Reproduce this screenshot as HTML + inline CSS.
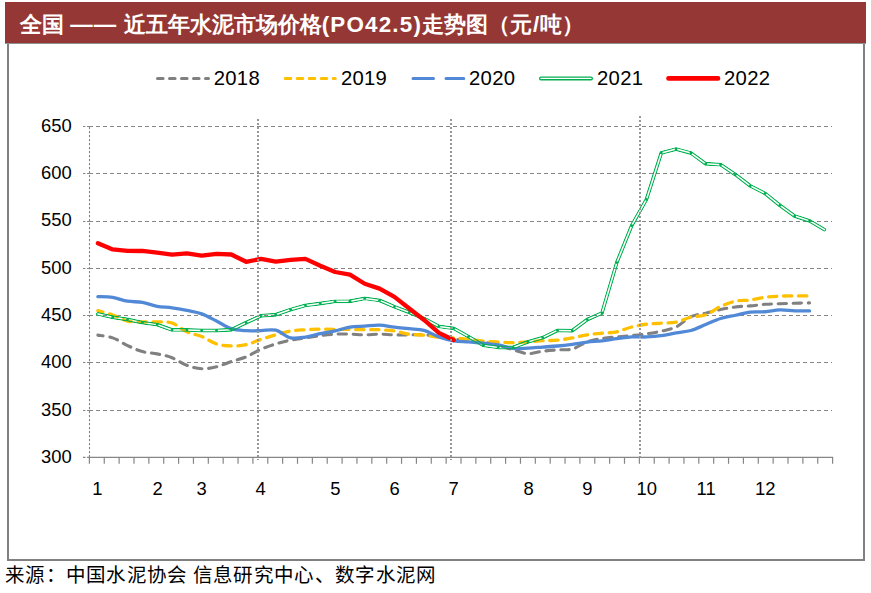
<!DOCTYPE html>
<html><head><meta charset="utf-8"><title>全国近五年水泥市场价格走势图</title>
<style>
html,body{margin:0;padding:0;background:#fff;}
body{width:871px;height:593px;position:relative;overflow:hidden;font-family:"Liberation Sans",sans-serif;}
.frame{position:absolute;left:7px;top:42px;width:854px;height:515px;border:2px solid #808080;background:#fff;}
.title{position:absolute;left:5px;top:2px;width:861px;height:42px;background:#953735;border-bottom:1px solid #8e9292;box-sizing:border-box;}
.title span.t{position:absolute;left:15px;top:10px;letter-spacing:0px;color:#fff;font-weight:bold;font-size:22.4px;line-height:26px;white-space:nowrap;}
.src{position:absolute;left:5px;top:564px;font-family:"Liberation Serif",serif;font-size:19.5px;line-height:24px;letter-spacing:0.3px;color:#000;white-space:nowrap;}
</style></head>
<body>
<div class="frame"></div>
<div class="title"><span class="t">全国 <span style="letter-spacing:1.2px">——</span> 近五年水泥市场价格<span style="letter-spacing:1.2px">(PO42.5)</span>走势图（元<span style="letter-spacing:1px;margin-left:1px">/</span>吨）</span></div>
<svg width="871" height="593" viewBox="0 0 871 593" style="position:absolute;left:0;top:0"><line x1="89" y1="410.5" x2="832" y2="410.5" stroke="#868686" stroke-width="1" stroke-dasharray="4 3"/><line x1="83" y1="410.5" x2="89.4" y2="410.5" stroke="#868686" stroke-width="1" stroke-dasharray="2.4 1.6"/><line x1="89" y1="362.5" x2="832" y2="362.5" stroke="#868686" stroke-width="1" stroke-dasharray="4 3"/><line x1="83" y1="362.5" x2="89.4" y2="362.5" stroke="#868686" stroke-width="1" stroke-dasharray="2.4 1.6"/><line x1="89" y1="315.5" x2="832" y2="315.5" stroke="#868686" stroke-width="1" stroke-dasharray="4 3"/><line x1="83" y1="315.5" x2="89.4" y2="315.5" stroke="#868686" stroke-width="1" stroke-dasharray="2.4 1.6"/><line x1="89" y1="268.5" x2="832" y2="268.5" stroke="#868686" stroke-width="1" stroke-dasharray="4 3"/><line x1="83" y1="268.5" x2="89.4" y2="268.5" stroke="#868686" stroke-width="1" stroke-dasharray="2.4 1.6"/><line x1="89" y1="221.5" x2="832" y2="221.5" stroke="#868686" stroke-width="1" stroke-dasharray="4 3"/><line x1="83" y1="221.5" x2="89.4" y2="221.5" stroke="#868686" stroke-width="1" stroke-dasharray="2.4 1.6"/><line x1="89" y1="173.5" x2="832" y2="173.5" stroke="#868686" stroke-width="1" stroke-dasharray="4 3"/><line x1="83" y1="173.5" x2="89.4" y2="173.5" stroke="#868686" stroke-width="1" stroke-dasharray="2.4 1.6"/><line x1="89" y1="126.5" x2="832" y2="126.5" stroke="#868686" stroke-width="1" stroke-dasharray="4 3"/><line x1="83" y1="126.5" x2="89.4" y2="126.5" stroke="#868686" stroke-width="1" stroke-dasharray="2.4 1.6"/><line x1="83" y1="457.4" x2="89.4" y2="457.4" stroke="#868686" stroke-width="1.2" stroke-dasharray="2.4 1.6"/><line x1="89.5" y1="127" x2="89.5" y2="457" stroke="#868686" stroke-width="1.1" stroke-dasharray="2.2 1.8"/><line x1="88.8" y1="457.4" x2="833.2" y2="457.4" stroke="#868686" stroke-width="1.35"/><line x1="89.40" y1="457.4" x2="89.40" y2="463.8" stroke="#868686" stroke-width="1.2"/><line x1="104.26" y1="457.4" x2="104.26" y2="463.8" stroke="#868686" stroke-width="1.2"/><line x1="119.13" y1="457.4" x2="119.13" y2="463.8" stroke="#868686" stroke-width="1.2"/><line x1="133.99" y1="457.4" x2="133.99" y2="463.8" stroke="#868686" stroke-width="1.2"/><line x1="148.86" y1="457.4" x2="148.86" y2="463.8" stroke="#868686" stroke-width="1.2"/><line x1="163.72" y1="457.4" x2="163.72" y2="463.8" stroke="#868686" stroke-width="1.2"/><line x1="178.58" y1="457.4" x2="178.58" y2="463.8" stroke="#868686" stroke-width="1.2"/><line x1="193.45" y1="457.4" x2="193.45" y2="463.8" stroke="#868686" stroke-width="1.2"/><line x1="208.31" y1="457.4" x2="208.31" y2="463.8" stroke="#868686" stroke-width="1.2"/><line x1="223.18" y1="457.4" x2="223.18" y2="463.8" stroke="#868686" stroke-width="1.2"/><line x1="238.04" y1="457.4" x2="238.04" y2="463.8" stroke="#868686" stroke-width="1.2"/><line x1="252.90" y1="457.4" x2="252.90" y2="463.8" stroke="#868686" stroke-width="1.2"/><line x1="267.77" y1="457.4" x2="267.77" y2="463.8" stroke="#868686" stroke-width="1.2"/><line x1="282.63" y1="457.4" x2="282.63" y2="463.8" stroke="#868686" stroke-width="1.2"/><line x1="297.50" y1="457.4" x2="297.50" y2="463.8" stroke="#868686" stroke-width="1.2"/><line x1="312.36" y1="457.4" x2="312.36" y2="463.8" stroke="#868686" stroke-width="1.2"/><line x1="327.22" y1="457.4" x2="327.22" y2="463.8" stroke="#868686" stroke-width="1.2"/><line x1="342.09" y1="457.4" x2="342.09" y2="463.8" stroke="#868686" stroke-width="1.2"/><line x1="356.95" y1="457.4" x2="356.95" y2="463.8" stroke="#868686" stroke-width="1.2"/><line x1="371.82" y1="457.4" x2="371.82" y2="463.8" stroke="#868686" stroke-width="1.2"/><line x1="386.68" y1="457.4" x2="386.68" y2="463.8" stroke="#868686" stroke-width="1.2"/><line x1="401.54" y1="457.4" x2="401.54" y2="463.8" stroke="#868686" stroke-width="1.2"/><line x1="416.41" y1="457.4" x2="416.41" y2="463.8" stroke="#868686" stroke-width="1.2"/><line x1="431.27" y1="457.4" x2="431.27" y2="463.8" stroke="#868686" stroke-width="1.2"/><line x1="446.14" y1="457.4" x2="446.14" y2="463.8" stroke="#868686" stroke-width="1.2"/><line x1="461.00" y1="457.4" x2="461.00" y2="463.8" stroke="#868686" stroke-width="1.2"/><line x1="475.86" y1="457.4" x2="475.86" y2="463.8" stroke="#868686" stroke-width="1.2"/><line x1="490.73" y1="457.4" x2="490.73" y2="463.8" stroke="#868686" stroke-width="1.2"/><line x1="505.59" y1="457.4" x2="505.59" y2="463.8" stroke="#868686" stroke-width="1.2"/><line x1="520.46" y1="457.4" x2="520.46" y2="463.8" stroke="#868686" stroke-width="1.2"/><line x1="535.32" y1="457.4" x2="535.32" y2="463.8" stroke="#868686" stroke-width="1.2"/><line x1="550.18" y1="457.4" x2="550.18" y2="463.8" stroke="#868686" stroke-width="1.2"/><line x1="565.05" y1="457.4" x2="565.05" y2="463.8" stroke="#868686" stroke-width="1.2"/><line x1="579.91" y1="457.4" x2="579.91" y2="463.8" stroke="#868686" stroke-width="1.2"/><line x1="594.78" y1="457.4" x2="594.78" y2="463.8" stroke="#868686" stroke-width="1.2"/><line x1="609.64" y1="457.4" x2="609.64" y2="463.8" stroke="#868686" stroke-width="1.2"/><line x1="624.50" y1="457.4" x2="624.50" y2="463.8" stroke="#868686" stroke-width="1.2"/><line x1="639.37" y1="457.4" x2="639.37" y2="463.8" stroke="#868686" stroke-width="1.2"/><line x1="654.23" y1="457.4" x2="654.23" y2="463.8" stroke="#868686" stroke-width="1.2"/><line x1="669.10" y1="457.4" x2="669.10" y2="463.8" stroke="#868686" stroke-width="1.2"/><line x1="683.96" y1="457.4" x2="683.96" y2="463.8" stroke="#868686" stroke-width="1.2"/><line x1="698.82" y1="457.4" x2="698.82" y2="463.8" stroke="#868686" stroke-width="1.2"/><line x1="713.69" y1="457.4" x2="713.69" y2="463.8" stroke="#868686" stroke-width="1.2"/><line x1="728.55" y1="457.4" x2="728.55" y2="463.8" stroke="#868686" stroke-width="1.2"/><line x1="743.42" y1="457.4" x2="743.42" y2="463.8" stroke="#868686" stroke-width="1.2"/><line x1="758.28" y1="457.4" x2="758.28" y2="463.8" stroke="#868686" stroke-width="1.2"/><line x1="773.14" y1="457.4" x2="773.14" y2="463.8" stroke="#868686" stroke-width="1.2"/><line x1="788.01" y1="457.4" x2="788.01" y2="463.8" stroke="#868686" stroke-width="1.2"/><line x1="802.87" y1="457.4" x2="802.87" y2="463.8" stroke="#868686" stroke-width="1.2"/><line x1="817.74" y1="457.4" x2="817.74" y2="463.8" stroke="#868686" stroke-width="1.2"/><line x1="832.60" y1="457.4" x2="832.60" y2="463.8" stroke="#868686" stroke-width="1.2"/><path d="M97.90,335.13 C100.37,335.59 107.78,336.14 112.73,337.87 C117.67,339.61 122.61,343.25 127.55,345.54 C132.49,347.83 137.44,350.21 142.38,351.60 C147.32,352.99 152.26,352.84 157.20,353.87 C162.15,354.89 167.09,355.84 172.03,357.75 C176.97,359.66 181.91,363.49 186.86,365.32 C191.80,367.15 196.74,368.48 201.68,368.73 C206.62,368.98 211.57,368.03 216.51,366.84 C221.45,365.64 226.39,363.19 231.33,361.54 C236.28,359.88 241.22,358.93 246.16,356.90 C251.10,354.86 256.04,351.49 260.99,349.33 C265.93,347.16 270.87,345.46 275.81,343.93 C280.75,342.40 285.70,341.14 290.64,340.14 C295.58,339.15 300.52,338.72 305.46,337.97 C310.41,337.21 315.35,336.25 320.29,335.60 C325.23,334.95 330.17,334.34 335.12,334.09 C340.06,333.83 345.00,333.96 349.94,334.09 C354.88,334.21 359.83,334.84 364.77,334.84 C369.71,334.84 374.65,334.09 379.59,334.09 C384.54,334.09 389.48,334.72 394.42,334.84 C399.36,334.97 404.30,334.84 409.25,334.84 C414.19,334.84 419.13,334.56 424.07,334.84 C429.01,335.13 433.96,335.87 438.90,336.55 C443.84,337.23 448.78,338.20 453.72,338.91 C458.67,339.62 463.61,340.26 468.55,340.81 C473.49,341.36 478.43,341.52 483.38,342.23 C488.32,342.94 493.26,343.80 498.20,345.07 C503.14,346.33 508.09,348.38 513.03,349.80 C517.97,351.22 522.91,353.35 527.85,353.58 C532.80,353.82 537.74,351.83 542.68,351.22 C547.62,350.60 552.56,350.26 557.51,349.89 C562.45,349.53 567.39,350.38 572.33,349.04 C577.27,347.70 582.22,343.62 587.16,341.85 C592.10,340.08 597.04,339.26 601.98,338.44 C606.93,337.62 611.87,337.40 616.81,336.93 C621.75,336.45 626.69,336.11 631.64,335.60 C636.58,335.10 641.52,334.64 646.46,333.90 C651.40,333.16 656.35,332.30 661.29,331.15 C666.23,330.00 671.17,329.40 676.11,326.99 C681.06,324.57 686.00,318.97 690.94,316.67 C695.88,314.37 700.82,314.35 705.77,313.17 C710.71,311.99 715.65,310.61 720.59,309.57 C725.53,308.53 730.48,307.54 735.42,306.92 C740.36,306.31 745.30,306.32 750.24,305.88 C755.19,305.44 760.13,304.64 765.07,304.27 C770.01,303.91 774.95,303.88 779.90,303.70 C784.84,303.53 789.78,303.37 794.72,303.23 C799.66,303.09 807.08,302.92 809.55,302.85" fill="none" stroke="#808080" stroke-width="3.1" stroke-linecap="round" stroke-dasharray="8.3 6.7" stroke-dashoffset="3"/><path d="M97.90,310.71 C100.37,311.42 107.78,313.25 112.73,314.97 C117.67,316.69 122.61,319.87 127.55,321.03 C132.49,322.18 137.44,321.74 142.38,321.88 C147.32,322.02 152.26,321.69 157.20,321.88 C162.15,322.07 167.09,321.36 172.03,323.01 C176.97,324.67 181.91,329.56 186.86,331.82 C191.80,334.07 196.74,334.53 201.68,336.55 C206.62,338.57 211.57,342.37 216.51,343.93 C221.45,345.49 226.39,345.79 231.33,345.92 C236.28,346.04 241.22,345.78 246.16,344.69 C251.10,343.60 256.04,341.03 260.99,339.39 C265.93,337.75 270.87,336.25 275.81,334.84 C280.75,333.44 285.70,331.82 290.64,330.96 C295.58,330.11 300.52,330.03 305.46,329.73 C310.41,329.43 315.35,329.21 320.29,329.17 C325.23,329.12 330.17,329.40 335.12,329.45 C340.06,329.50 345.00,329.40 349.94,329.45 C354.88,329.50 359.83,329.69 364.77,329.73 C369.71,329.78 374.65,329.53 379.59,329.73 C384.54,329.94 389.48,330.22 394.42,330.96 C399.36,331.71 404.30,333.49 409.25,334.18 C414.19,334.88 419.13,334.62 424.07,335.13 C429.01,335.63 433.96,336.75 438.90,337.21 C443.84,337.67 448.78,337.51 453.72,337.87 C458.67,338.24 463.61,338.85 468.55,339.39 C473.49,339.92 478.43,340.65 483.38,341.09 C488.32,341.53 493.26,341.77 498.20,342.04 C503.14,342.31 508.09,342.73 513.03,342.70 C517.97,342.67 522.91,342.18 527.85,341.85 C532.80,341.52 537.74,341.00 542.68,340.71 C547.62,340.43 552.56,340.60 557.51,340.14 C562.45,339.69 567.39,338.85 572.33,337.97 C577.27,337.08 582.22,335.63 587.16,334.84 C592.10,334.06 597.04,333.74 601.98,333.24 C606.93,332.73 611.87,332.86 616.81,331.82 C621.75,330.77 626.69,328.25 631.64,326.99 C636.58,325.73 641.52,324.87 646.46,324.24 C651.40,323.61 656.35,323.55 661.29,323.20 C666.23,322.86 671.17,323.17 676.11,322.16 C681.06,321.15 686.00,318.38 690.94,317.14 C695.88,315.91 700.82,316.56 705.77,314.78 C710.71,313.00 715.65,308.71 720.59,306.45 C725.53,304.19 730.48,302.32 735.42,301.24 C740.36,300.17 745.30,300.68 750.24,300.01 C755.19,299.35 760.13,297.92 765.07,297.27 C770.01,296.62 774.95,296.35 779.90,296.13 C784.84,295.91 789.78,295.97 794.72,295.94 C799.66,295.91 807.08,295.94 809.55,295.94" fill="none" stroke="#FFC000" stroke-width="3.3" stroke-linecap="round" stroke-dasharray="8.3 6.7" stroke-dashoffset="3"/><path d="M97.90,296.61 C100.37,296.73 107.78,296.59 112.73,297.36 C117.67,298.14 122.61,300.42 127.55,301.24 C132.49,302.06 137.44,301.45 142.38,302.28 C147.32,303.12 152.26,305.35 157.20,306.26 C162.15,307.17 167.09,307.08 172.03,307.77 C176.97,308.47 181.91,309.41 186.86,310.42 C191.80,311.43 196.74,312.07 201.68,313.83 C206.62,315.60 211.57,318.55 216.51,321.03 C221.45,323.50 226.39,327.08 231.33,328.69 C236.28,330.30 241.22,330.35 246.16,330.68 C251.10,331.01 256.04,330.76 260.99,330.68 C265.93,330.60 270.87,329.01 275.81,330.21 C280.75,331.41 285.70,336.74 290.64,337.87 C295.58,339.01 300.52,337.72 305.46,337.02 C310.41,336.33 315.35,334.72 320.29,333.71 C325.23,332.70 330.17,332.05 335.12,330.96 C340.06,329.88 345.00,327.98 349.94,327.18 C354.88,326.37 359.83,326.47 364.77,326.14 C369.71,325.81 374.65,325.02 379.59,325.19 C384.54,325.36 389.48,326.59 394.42,327.18 C399.36,327.76 404.30,328.16 409.25,328.69 C414.19,329.23 419.13,329.02 424.07,330.40 C429.01,331.77 433.96,335.19 438.90,336.93 C443.84,338.66 448.78,339.99 453.72,340.81 C458.67,341.63 463.61,341.45 468.55,341.85 C473.49,342.24 478.43,342.67 483.38,343.17 C488.32,343.68 493.26,344.01 498.20,344.88 C503.14,345.74 508.09,347.84 513.03,348.38 C517.97,348.92 522.91,348.32 527.85,348.10 C532.80,347.87 537.74,347.40 542.68,347.05 C547.62,346.71 552.56,346.47 557.51,346.01 C562.45,345.56 567.39,344.96 572.33,344.31 C577.27,343.66 582.22,342.72 587.16,342.13 C592.10,341.55 597.04,341.38 601.98,340.81 C606.93,340.24 611.87,339.37 616.81,338.72 C621.75,338.08 626.69,337.23 631.64,336.93 C636.58,336.63 641.52,337.15 646.46,336.93 C651.40,336.71 656.35,336.28 661.29,335.60 C666.23,334.92 671.17,333.71 676.11,332.86 C681.06,332.00 686.00,331.88 690.94,330.49 C695.88,329.10 700.82,326.53 705.77,324.53 C710.71,322.52 715.65,320.02 720.59,318.47 C725.53,316.92 730.48,316.32 735.42,315.25 C740.36,314.18 745.30,312.62 750.24,312.03 C755.19,311.45 760.13,312.10 765.07,311.75 C770.01,311.40 774.95,310.09 779.90,309.95 C784.84,309.81 789.78,310.74 794.72,310.90 C799.66,311.06 807.08,310.90 809.55,310.90" fill="none" stroke="#5189D6" stroke-width="3.3" stroke-linecap="round" stroke-linejoin="round"/><mask id="gm" maskUnits="userSpaceOnUse" x="0" y="0" width="871" height="593"><rect x="0" y="0" width="871" height="593" fill="#000"/><path d="M97.90,313.93 L112.73,317.24 L127.55,319.51 L142.38,322.63 L157.20,324.62 L172.03,329.92 L186.86,329.92 L201.68,330.49 L216.51,330.49 L231.33,329.73 L246.16,322.63 L260.99,315.73 L275.81,314.68 L290.64,309.57 L305.46,305.41 L320.29,303.52 L335.12,301.34 L349.94,301.24 L364.77,298.40 L379.59,300.39 L394.42,306.73 L409.25,312.41 L424.07,318.47 L438.90,326.42 L453.72,328.41 L468.55,336.64 L483.38,345.35 L498.20,347.43 L513.03,347.43 L527.85,341.85 L542.68,337.68 L557.51,330.40 L572.33,330.68 L587.16,319.61 L601.98,312.98 L616.81,262.53 L631.64,225.71 L646.46,199.40 L661.29,152.93 L676.11,149.05 L690.94,153.02 L705.77,163.81 L720.59,164.66 L735.42,174.51 L750.24,185.87 L765.07,193.44 L779.90,205.36 L794.72,216.06 L809.55,220.89 L824.37,229.59" fill="none" stroke="#fff" stroke-width="3.9" stroke-linejoin="round" stroke-linecap="round"/><path d="M97.90,313.93 L112.73,317.24 L127.55,319.51 L142.38,322.63 L157.20,324.62 L172.03,329.92 L186.86,329.92 L201.68,330.49 L216.51,330.49 L231.33,329.73 L246.16,322.63 L260.99,315.73 L275.81,314.68 L290.64,309.57 L305.46,305.41 L320.29,303.52 L335.12,301.34 L349.94,301.24 L364.77,298.40 L379.59,300.39 L394.42,306.73 L409.25,312.41 L424.07,318.47 L438.90,326.42 L453.72,328.41 L468.55,336.64 L483.38,345.35 L498.20,347.43 L513.03,347.43 L527.85,341.85 L542.68,337.68 L557.51,330.40 L572.33,330.68 L587.16,319.61 L601.98,312.98 L616.81,262.53 L631.64,225.71 L646.46,199.40 L661.29,152.93 L676.11,149.05 L690.94,153.02 L705.77,163.81 L720.59,164.66 L735.42,174.51 L750.24,185.87 L765.07,193.44 L779.90,205.36 L794.72,216.06 L809.55,220.89 L824.37,229.59" fill="none" stroke="#000" stroke-width="1.5" stroke-linejoin="round" stroke-linecap="round"/></mask><path d="M97.90,313.93 L112.73,317.24 L127.55,319.51 L142.38,322.63 L157.20,324.62 L172.03,329.92 L186.86,329.92 L201.68,330.49 L216.51,330.49 L231.33,329.73 L246.16,322.63 L260.99,315.73 L275.81,314.68 L290.64,309.57 L305.46,305.41 L320.29,303.52 L335.12,301.34 L349.94,301.24 L364.77,298.40 L379.59,300.39 L394.42,306.73 L409.25,312.41 L424.07,318.47 L438.90,326.42 L453.72,328.41 L468.55,336.64 L483.38,345.35 L498.20,347.43 L513.03,347.43 L527.85,341.85 L542.68,337.68 L557.51,330.40 L572.33,330.68 L587.16,319.61 L601.98,312.98 L616.81,262.53 L631.64,225.71 L646.46,199.40 L661.29,152.93 L676.11,149.05 L690.94,153.02 L705.77,163.81 L720.59,164.66 L735.42,174.51 L750.24,185.87 L765.07,193.44 L779.90,205.36 L794.72,216.06 L809.55,220.89 L824.37,229.59" fill="none" stroke="#00B050" stroke-width="3.9" stroke-linejoin="round" stroke-linecap="round" mask="url(#gm)"/><circle cx="112.73" cy="317.24" r="1.4" fill="#00B050"/><circle cx="127.55" cy="319.51" r="1.4" fill="#00B050"/><circle cx="142.38" cy="322.63" r="1.4" fill="#00B050"/><circle cx="157.20" cy="324.62" r="1.4" fill="#00B050"/><circle cx="172.03" cy="329.92" r="1.4" fill="#00B050"/><circle cx="186.86" cy="329.92" r="1.4" fill="#00B050"/><circle cx="201.68" cy="330.49" r="1.4" fill="#00B050"/><circle cx="216.51" cy="330.49" r="1.4" fill="#00B050"/><circle cx="231.33" cy="329.73" r="1.4" fill="#00B050"/><circle cx="246.16" cy="322.63" r="1.4" fill="#00B050"/><circle cx="260.99" cy="315.73" r="1.4" fill="#00B050"/><circle cx="275.81" cy="314.68" r="1.4" fill="#00B050"/><circle cx="290.64" cy="309.57" r="1.4" fill="#00B050"/><circle cx="305.46" cy="305.41" r="1.4" fill="#00B050"/><circle cx="320.29" cy="303.52" r="1.4" fill="#00B050"/><circle cx="335.12" cy="301.34" r="1.4" fill="#00B050"/><circle cx="349.94" cy="301.24" r="1.4" fill="#00B050"/><circle cx="364.77" cy="298.40" r="1.4" fill="#00B050"/><circle cx="379.59" cy="300.39" r="1.4" fill="#00B050"/><circle cx="394.42" cy="306.73" r="1.4" fill="#00B050"/><circle cx="409.25" cy="312.41" r="1.4" fill="#00B050"/><circle cx="424.07" cy="318.47" r="1.4" fill="#00B050"/><circle cx="438.90" cy="326.42" r="1.4" fill="#00B050"/><circle cx="453.72" cy="328.41" r="1.4" fill="#00B050"/><circle cx="468.55" cy="336.64" r="1.4" fill="#00B050"/><circle cx="483.38" cy="345.35" r="1.4" fill="#00B050"/><circle cx="498.20" cy="347.43" r="1.4" fill="#00B050"/><circle cx="513.03" cy="347.43" r="1.4" fill="#00B050"/><circle cx="527.85" cy="341.85" r="1.4" fill="#00B050"/><circle cx="542.68" cy="337.68" r="1.4" fill="#00B050"/><circle cx="557.51" cy="330.40" r="1.4" fill="#00B050"/><circle cx="572.33" cy="330.68" r="1.4" fill="#00B050"/><circle cx="587.16" cy="319.61" r="1.4" fill="#00B050"/><circle cx="601.98" cy="312.98" r="1.4" fill="#00B050"/><circle cx="616.81" cy="262.53" r="1.4" fill="#00B050"/><circle cx="631.64" cy="225.71" r="1.4" fill="#00B050"/><circle cx="646.46" cy="199.40" r="1.4" fill="#00B050"/><circle cx="661.29" cy="152.93" r="1.4" fill="#00B050"/><circle cx="676.11" cy="149.05" r="1.4" fill="#00B050"/><circle cx="690.94" cy="153.02" r="1.4" fill="#00B050"/><circle cx="705.77" cy="163.81" r="1.4" fill="#00B050"/><circle cx="720.59" cy="164.66" r="1.4" fill="#00B050"/><circle cx="735.42" cy="174.51" r="1.4" fill="#00B050"/><circle cx="750.24" cy="185.87" r="1.4" fill="#00B050"/><circle cx="765.07" cy="193.44" r="1.4" fill="#00B050"/><circle cx="779.90" cy="205.36" r="1.4" fill="#00B050"/><circle cx="794.72" cy="216.06" r="1.4" fill="#00B050"/><circle cx="809.55" cy="220.89" r="1.4" fill="#00B050"/><path d="M97.90,243.22 L112.73,249.47 L127.55,250.89 L142.38,250.98 L157.20,252.69 L172.03,254.58 L186.86,253.45 L201.68,255.72 L216.51,253.92 L231.33,254.49 L246.16,261.77 L260.99,258.84 L275.81,261.59 L290.64,259.79 L305.46,258.84 L320.29,265.75 L335.12,272.00 L349.94,274.65 L364.77,283.73 L379.59,288.66 L394.42,296.89 L409.25,308.44 L424.07,319.98 L438.90,332.86 L453.72,340.05" fill="none" stroke="#FF0000" stroke-width="4.3" stroke-linejoin="round" stroke-linecap="round"/><line x1="258" y1="119" x2="258" y2="460" stroke="#969696" stroke-width="2" stroke-dasharray="2 2"/><line x1="451" y1="119" x2="451" y2="460" stroke="#969696" stroke-width="2" stroke-dasharray="2 2"/><line x1="640" y1="116" x2="640" y2="460" stroke="#969696" stroke-width="2" stroke-dasharray="2 2"/><line x1="157.5" y1="78.4" x2="208.5" y2="78.4" stroke="#808080" stroke-width="3" stroke-linecap="round" stroke-dasharray="5.6 6.4"/><line x1="285.2" y1="78.4" x2="335.2" y2="78.4" stroke="#FFC000" stroke-width="3" stroke-linecap="round" stroke-dasharray="5.6 6.4"/><line x1="413" y1="78.4" x2="463.8" y2="78.4" stroke="#5189D6" stroke-width="3" stroke-linecap="round" stroke-dasharray="20.5 12.5"/><line x1="541" y1="78.4" x2="591" y2="78.4" stroke="#00B050" stroke-width="4" stroke-linecap="round"/><line x1="541" y1="78.4" x2="591" y2="78.4" stroke="#ffffff" stroke-width="1.3" stroke-linecap="round"/><line x1="668.5" y1="78.4" x2="718" y2="78.4" stroke="#FF0000" stroke-width="4.6" stroke-linecap="round"/><g font-family="Liberation Sans, sans-serif" font-size="18.4" fill="#000"><text x="213.8" y="85.1" font-size="20.3" letter-spacing="0.25">2018</text><text x="340.9" y="85.1" font-size="20.3" letter-spacing="0.25">2019</text><text x="469.1" y="85.1" font-size="20.3" letter-spacing="0.25">2020</text><text x="597.1" y="85.1" font-size="20.3" letter-spacing="0.25">2021</text><text x="724.1" y="85.1" font-size="20.3" letter-spacing="0.25">2022</text><text x="71.8" y="462.9" text-anchor="end">300</text><text x="71.8" y="415.6" text-anchor="end">350</text><text x="71.8" y="368.2" text-anchor="end">400</text><text x="71.8" y="320.9" text-anchor="end">450</text><text x="71.8" y="273.6" text-anchor="end">500</text><text x="71.8" y="226.3" text-anchor="end">550</text><text x="71.8" y="178.9" text-anchor="end">600</text><text x="71.8" y="131.6" text-anchor="end">650</text><text x="97.30" y="495.4" text-anchor="middle">1</text><text x="157.60" y="495.4" text-anchor="middle">2</text><text x="201.50" y="495.4" text-anchor="middle">3</text><text x="260.50" y="495.4" text-anchor="middle">4</text><text x="335.30" y="495.4" text-anchor="middle">5</text><text x="394.50" y="495.4" text-anchor="middle">6</text><text x="453.70" y="495.4" text-anchor="middle">7</text><text x="528.70" y="495.4" text-anchor="middle">8</text><text x="587.40" y="495.4" text-anchor="middle">9</text><text x="646.70" y="495.4" text-anchor="middle">10</text><text x="706.10" y="495.4" text-anchor="middle">11</text><text x="765.35" y="495.4" text-anchor="middle">12</text></g></svg>
<div class="src" lang="zh-CN">来源：中国水泥协会 信息研究中心、数字水泥网</div>
</body></html>
